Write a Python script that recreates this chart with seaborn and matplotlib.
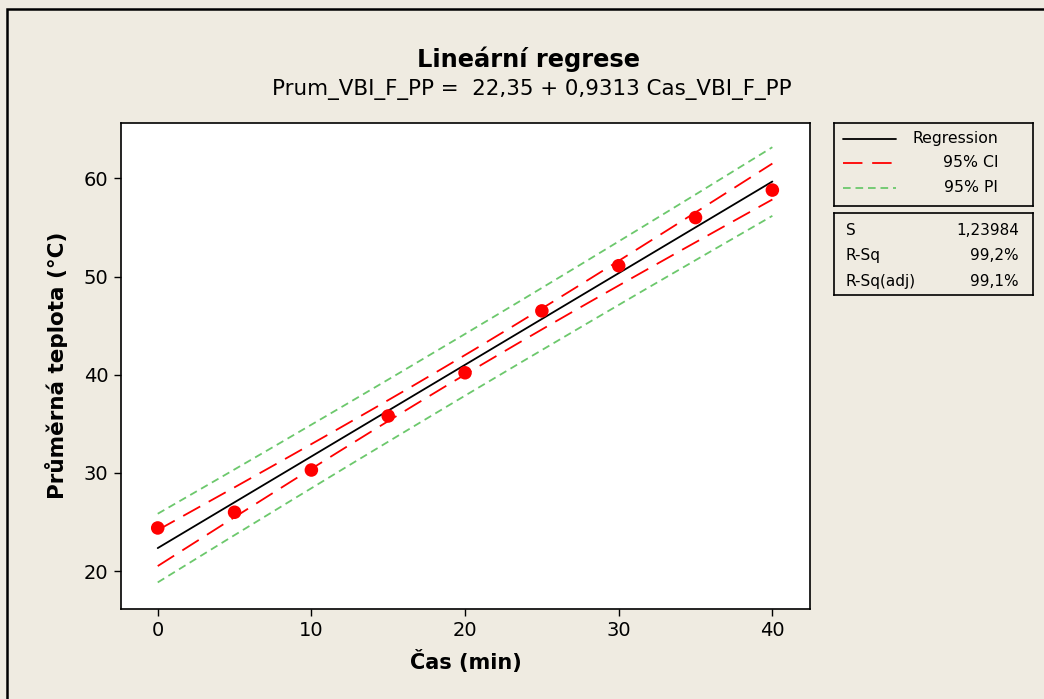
"""
Lineární regrese -- fitted line plot with 95% CI / PI bands.
"""

# Third Party --------------------------------------------------------------------------
import matplotlib

matplotlib.use("Agg")
import matplotlib.pyplot as plt
import numpy as np
import pandas as pd
import seaborn as sns
from matplotlib.patches import Rectangle

# Data ---------------------------------------------------------------------------------
cas = [0, 5, 10, 15, 20, 25, 30, 35, 40]
teplota = [24.4, 26.0, 30.3, 35.8, 40.2, 46.5, 51.1, 56.0, 58.8]

x_ticks = [0, 10, 20, 30, 40]
y_ticks = [20, 30, 40, 50, 60]

title = "Lineární regrese"
equation = "Prum_VBI_F_PP =  22,35 + 0,9313 Cas_VBI_F_PP"
legend_labels = ["Regression", "95% CI", "95% PI"]
stats_names = ["S", "R-Sq", "R-Sq(adj)"]
stats_values = ["1,23984", "99,2%", "99,1%"]

T_975_DF7 = 2.365  # Student t, 95 %, n - 2 = 7 degrees of freedom

BG = "#EFEBE1"
RED = "#FF0000"
GREEN = "#6CC86C"

# Fit ----------------------------------------------------------------------------------
x = np.array(cas, dtype=float)
y = np.array(teplota, dtype=float)
n = len(x)
slope, intercept = np.polyfit(x, y, 1)
resid = y - (intercept + slope * x)
s = np.sqrt(np.sum(resid**2) / (n - 2))
sxx = np.sum((x - x.mean()) ** 2)

grid = np.linspace(x.min(), x.max(), 200)
fit = intercept + slope * grid
ci = T_975_DF7 * s * np.sqrt(1 / n + (grid - x.mean()) ** 2 / sxx)
pi = T_975_DF7 * s * np.sqrt(1 + 1 / n + (grid - x.mean()) ** 2 / sxx)

points_df = pd.DataFrame({"cas": cas, "teplota": teplota})
fit_df = pd.DataFrame(
    {
        "cas": grid,
        "fit": fit,
        "ci_lo": fit - ci,
        "ci_hi": fit + ci,
        "pi_lo": fit - pi,
        "pi_hi": fit + pi,
    }
)

# Graph --------------------------------------------------------------------------------
sns.set_theme(style="white")
plt.rcParams["font.family"] = ["DejaVu Sans"]
plt.rcParams["lines.scale_dashes"] = False

fig = plt.figure(figsize=(10.44, 6.99), dpi=100, facecolor=BG)
ax = fig.add_axes([121 / 1044, 1 - 608.5 / 699, 689 / 1044, 485.5 / 699])
ax.set_facecolor("white")

ci_style = (0, (14, 7))
pi_style = (0, (5.5, 3.5))

sns.lineplot(data=fit_df, x="cas", y="pi_hi", ax=ax, color=GREEN, lw=1.3, linestyle=pi_style)
sns.lineplot(data=fit_df, x="cas", y="pi_lo", ax=ax, color=GREEN, lw=1.3, linestyle=pi_style)
sns.lineplot(data=fit_df, x="cas", y="ci_hi", ax=ax, color=RED, lw=1.3, linestyle=ci_style)
sns.lineplot(data=fit_df, x="cas", y="ci_lo", ax=ax, color=RED, lw=1.3, linestyle=ci_style)
sns.lineplot(data=fit_df, x="cas", y="fit", ax=ax, color="black", lw=1.3)
sns.scatterplot(
    data=points_df, x="cas", y="teplota", ax=ax, color=RED, s=95, edgecolor="none", zorder=5
)

# Axes
ax.set_xlim(-2.39, 42.45)
ax.set_ylim(16.2, 65.63)
ax.set_xticks(x_ticks)
ax.set_yticks(y_ticks)
ax.tick_params(
    axis="both", direction="out", length=5, width=1, color="black",
    labelsize=14, labelcolor="black", pad=4, bottom=True, left=True,
)
for sp in ax.spines.values():
    sp.set_color("black")
    sp.set_linewidth(1.2)

ax.set_xlabel("Čas (min)", fontsize=15, fontweight="bold", color="black", labelpad=7)
ax.set_ylabel(
    "Průměrná teplota (°C)", fontsize=15.5, fontweight="bold", color="black", labelpad=11
)

# Title and equation
fig.text(0.506, 1 - 59 / 699, title, ha="center", va="center",
         fontsize=17.4, fontweight="bold", color="black")
fig.text(0.509, 1 - 90 / 699, equation, ha="center", va="center",
         fontsize=15.4, color="black")

# Legend box
ax_leg = fig.add_axes([834 / 1044, 1 - 206 / 699, 199 / 1044, 83 / 699])
ax_leg.set_xlim(0, 1)
ax_leg.set_ylim(0, 1)
ax_leg.set_xticks([])
ax_leg.set_yticks([])
ax_leg.set_facecolor(BG)
for sp in ax_leg.spines.values():
    sp.set_color("black")
    sp.set_linewidth(1.2)
leg_rows = [0.81, 0.52, 0.22]
leg_styles = [("black", "-"), (RED, ci_style), (GREEN, pi_style)]
for label, row, (col, ls) in zip(legend_labels, leg_rows, leg_styles):
    ax_leg.plot([0.045, 0.31], [row, row], color=col, linestyle=ls, lw=1.3)
    ax_leg.text(0.825, row, label, ha="right", va="center", fontsize=11.3, color="black")

# Summary statistics box
ax_st = fig.add_axes([834 / 1044, 1 - 295 / 699, 199 / 1044, 82 / 699])
ax_st.set_xlim(0, 1)
ax_st.set_ylim(0, 1)
ax_st.set_xticks([])
ax_st.set_yticks([])
ax_st.set_facecolor(BG)
for sp in ax_st.spines.values():
    sp.set_color("black")
    sp.set_linewidth(1.2)
for name, value, row in zip(stats_names, stats_values, [0.79, 0.48, 0.16]):
    ax_st.text(0.06, row, name, ha="left", va="center", fontsize=11, color="black")
    ax_st.text(0.93, row, value, ha="right", va="center", fontsize=11, color="black")

# Outer frame (cut off at right and bottom)
fig.add_artist(
    Rectangle((7 / 1044, -0.1), 1.2, 1.1 - 9 / 699, transform=fig.transFigure,
              fill=False, edgecolor="black", lw=1.8)
)

fig.savefig("out.png", dpi=100, facecolor=BG)
